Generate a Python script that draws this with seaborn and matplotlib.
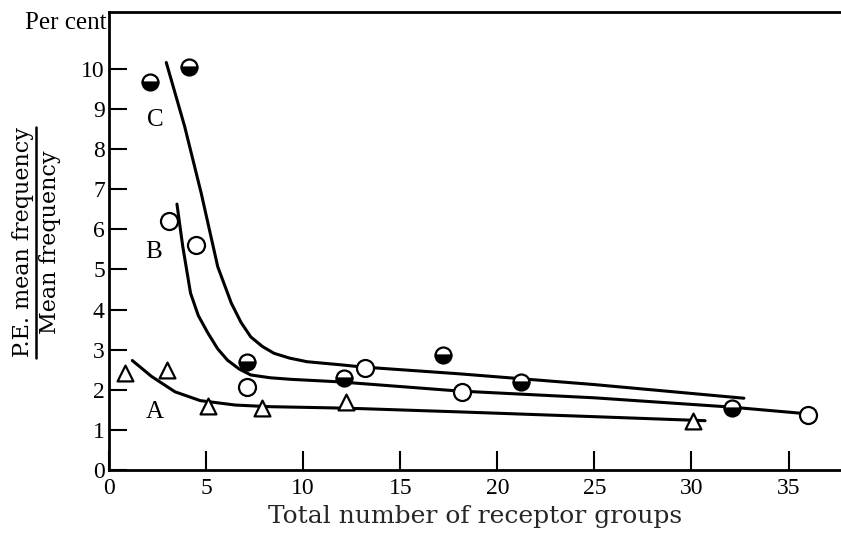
import pandas as pd
import seaborn as sns
import matplotlib
matplotlib.use("Agg")
import matplotlib.pyplot as plt
from matplotlib.lines import Line2D

a_x = [0.8, 3.0, 5.1, 7.9, 12.2, 30.1]
a_y = [2.42, 2.5, 1.6, 1.55, 1.7, 1.22]

b_x = [3.1, 4.5, 7.1, 13.2, 18.2, 36.0]
b_y = [6.2, 5.6, 2.07, 2.54, 1.94, 1.36]

c_x = [2.1, 4.1, 7.1, 12.1, 17.2, 21.2, 32.1]
c_y = [9.67, 10.05, 2.69, 2.3, 2.87, 2.19, 1.55]

# Hand-drawn fitted curves
curve_a_x = [1.2, 2.2, 3.4, 4.7, 6.5, 8.2, 11.4, 13.0, 18.0, 25.0, 30.7]
curve_a_y = [2.73, 2.33, 1.95, 1.73, 1.62, 1.58, 1.55, 1.53, 1.45, 1.33, 1.23]

curve_b_x = [3.5, 3.8, 4.2, 4.6, 5.1, 5.6, 6.1, 6.7, 7.3, 8.3, 9.4, 11.8, 18.0, 25.0, 32.0, 36.0]
curve_b_y = [6.63, 5.57, 4.41, 3.85, 3.41, 3.02, 2.74, 2.52, 2.37, 2.30, 2.26, 2.20, 1.97, 1.80, 1.57, 1.40]

curve_c_x = [2.95, 3.9, 4.75, 5.6, 6.3, 6.8, 7.3, 7.9, 8.5, 9.3, 10.2, 12.0, 13.0, 18.0, 25.0, 32.7]
curve_c_y = [10.16, 8.56, 6.90, 5.07, 4.16, 3.68, 3.32, 3.08, 2.91, 2.79, 2.70, 2.62, 2.57, 2.40, 2.13, 1.79]

curve_labels = ['A', 'B', 'C']
label_x = [2.35, 2.3, 2.4]
label_y = [1.45, 5.44, 8.73]

sns.set_style("white")
plt.rcParams['font.family'] = ['Liberation Serif', 'DejaVu Serif']
plt.rcParams['text.color'] = 'black'
plt.rcParams['xtick.color'] = 'black'
plt.rcParams['ytick.color'] = 'black'

fig = plt.figure(figsize=(8.41, 5.44), dpi=100)
ax = fig.add_axes([0.1296, 0.136, 0.8704, 0.842])

for cx, cy in [(curve_a_x, curve_a_y), (curve_b_x, curve_b_y), (curve_c_x, curve_c_y)]:
    sns.lineplot(x=cx, y=cy, ax=ax, color='black', linewidth=2.2,
                 estimator=None, sort=False)

sns.scatterplot(x=a_x, y=a_y, ax=ax, marker='^', s=130, facecolor='white',
                edgecolor='black', linewidth=1.6, zorder=3)
sns.scatterplot(x=b_x, y=b_y, ax=ax, marker='o', s=150, facecolor='white',
                edgecolor='black', linewidth=1.6, zorder=3)
ax.plot(c_x, c_y, linestyle='none', marker='o', markersize=11.5, fillstyle='bottom',
        markerfacecolor='black', markerfacecoloralt='white', markeredgecolor='black',
        markeredgewidth=1.6, zorder=4)

for lab, lx, ly in zip(curve_labels, label_x, label_y):
    ax.text(lx, ly, lab, fontsize=18, ha='center', va='center')

ax.set_xlim(0, 37.7)
ax.set_ylim(0, 11.42)
ax.set_xticks(range(0, 40, 5))
ax.set_yticks(range(0, 11))
ax.tick_params(axis='both', direction='in', color='black', width=1.5, labelsize=17,
               bottom=True, left=True)
ax.tick_params(axis='y', length=13, pad=3)
ax.tick_params(axis='x', length=14, pad=6)

for side in ['left', 'bottom', 'top']:
    ax.spines[side].set_color('black')
    ax.spines[side].set_linewidth(2)
ax.spines['right'].set_visible(False)

ax.set_xlabel('Total number of receptor groups', fontsize=18, family='DejaVu Serif',
              labelpad=4)

# y label as a stacked fraction
fig.text(0.027, 0.555, 'P.E. mean frequency', rotation=90, fontsize=16,
         family='DejaVu Serif', ha='center', va='center')
fig.text(0.060, 0.555, 'Mean frequency', rotation=90, fontsize=16,
         family='DejaVu Serif', ha='center', va='center')
fig.add_artist(Line2D([0.043, 0.043], [0.342, 0.767], color='black', linewidth=1.8,
                      transform=fig.transFigure))

fig.text(0.127, 0.958, 'Per cent', fontsize=18, ha='right', va='center')

fig.savefig('out.png', dpi=100)
